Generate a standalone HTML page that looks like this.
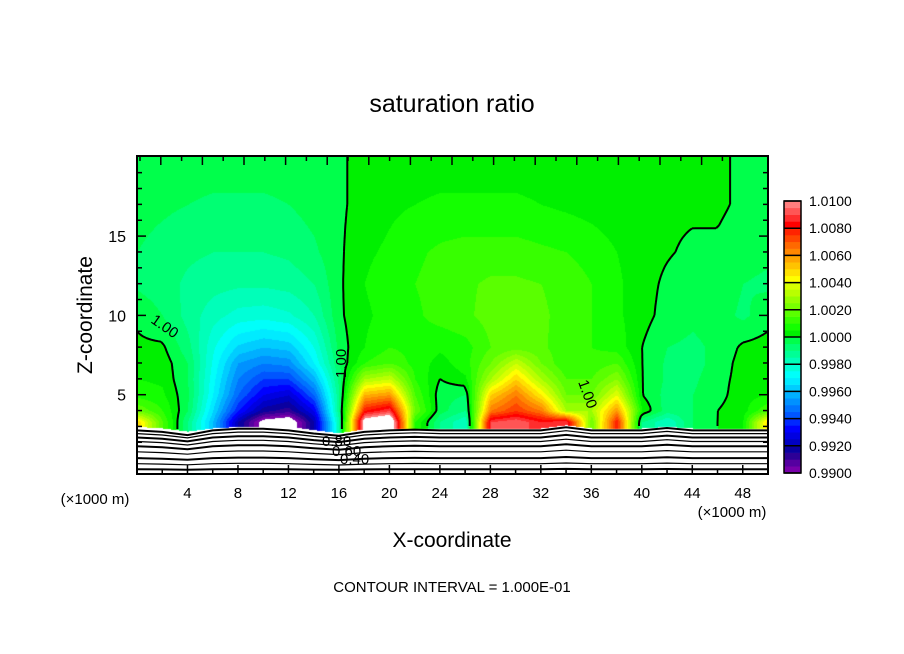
<!DOCTYPE html>
<html><head><meta charset="utf-8"><style>
body{margin:0;background:#fff;width:904px;height:654px;overflow:hidden;position:relative;font-family:"Liberation Sans",sans-serif}
svg text{font-family:"Liberation Sans",sans-serif}
#heat{position:absolute;left:137px;top:156px}
#ov{position:absolute;left:0;top:0}
</style></head><body>
<canvas id="heat" width="631" height="318"></canvas>
<svg id="ov" width="904" height="654"></svg>
<script>
// ---- data ----
const xCols=[0,2,4,6,8,10,12,14,16,18,20,22,24,26,28,30,32,34,36,38,40,42,44,46,48,50];
const zRows=[3.3,4,5,6,7,8,10,12,14,17,20];
// deviation from 1.0 in units of 0.001
const r33=[5,1.5,-1,-4,-8,-10.5,-11,-8,-1.5,11,12,1,-1,-2,9,9.5,8.5,9,2,8,-1,-2,-0.5,0,0.5,5];
const r4=[2,1,-0.5,-3.5,-6.5,-8.3,-8.8,-7,-1,8,9,2,-0.3,-1,6.5,7.5,6.5,3,3,6,0.5,-0.8,-0.5,0,0.3,1.5];
const r5=[0.8,0.6,-0.4,-3,-5.5,-7,-7.5,-5.5,-1,5.5,6,1.5,-0.3,-0.5,5,6.5,4.5,2,2,4,0,-0.7,-0.5,-0.2,0.3,0.5];
const r6=[0.5,0.4,-0.5,-2.8,-5,-6,-6,-4.2,-0.8,3,3.5,1,0,0.4,3,5,3,1.5,1.5,2.5,0,-0.6,-0.6,-0.2,0.2,0.3];
const r7=[0.3,0.3,-0.5,-2.6,-4.5,-5,-4.8,-3,-0.5,1,1.5,0.8,0.3,0.8,2,3.5,2,1,1.2,1.5,0,-0.6,-0.7,-0.3,0.2,0.2];
const r8=[0.1,0.1,-0.8,-2.4,-3.6,-4,-3.8,-2.5,-0.3,0.5,1,0.8,0.6,0.8,1.5,1.8,1.6,1.2,1,0.8,0,-0.5,-0.6,-0.4,0.1,0.2];
const r10=[-0.1,-0.5,-1.2,-1.8,-2.2,-2.3,-2.1,-1.5,-0.1,0.4,0.7,0.9,1.2,1.4,1.7,1.8,1.6,1.3,1,0.6,0.2,-0.2,-0.4,-0.3,-0.6,-0.2];
const r12=[-0.6,-0.8,-1.1,-1.3,-1.4,-1.4,-1.3,-1,-0.1,0.5,0.8,1,1.2,1.4,1.6,1.6,1.5,1.3,1,0.6,0.2,-0.1,-0.3,-0.2,-0.5,-0.6];
const r14=[-0.5,-0.7,-0.9,-1,-1,-1,-0.9,-0.6,-0.1,0.4,0.6,0.9,1.1,1.2,1.2,1.2,1.1,1,0.8,0.5,0.2,0.05,-0.1,-0.1,-0.3,-0.4];
const r17=[-0.3,-0.4,-0.5,-0.6,-0.6,-0.6,-0.5,-0.3,-0.1,0.2,0.4,0.5,0.6,0.6,0.6,0.6,0.5,0.4,0.3,0.2,0.1,0.1,0.1,0.1,-0.1,-0.1];
const r20=[-0.2,-0.2,-0.2,-0.2,-0.2,-0.2,-0.2,-0.2,-0.1,0.2,0.2,0.2,0.2,0.2,0.2,0.2,0.2,0.2,0.2,0.2,0.2,0.2,0.2,0.1,-0.1,-0.1];
const grid=[r33,r4,r5,r6,r7,r8,r10,r12,r14,r17,r20];
const surfaceZ=[3.0,2.9,2.7,2.9,3.0,3.0,3.0,2.8,2.6,2.85,2.9,2.9,2.9,2.9,2.9,2.9,2.9,3.1,2.9,2.9,2.9,3.0,2.9,2.9,2.9,2.9];
const terrainProfile=[0,-0.1,-0.3,0,0.1,0.1,0,-0.2,-0.35,-0.1,0,0.05,0,0,0,0,0,0.2,0,0,0,0.15,0,0,0,0];
const terrainLevels=[2.75,2.55,2.3,2.05,1.75,1.4,1.0,0.65,0.3];
const xTicks=[4,8,12,16,20,24,28,32,36,40,44,48];
const zTicks=[5,10,15];
const cbLabels=["1.0100","1.0080","1.0060","1.0040","1.0020","1.0000","0.9980","0.9960","0.9940","0.9920","0.9900"];
const palette=[[120,0,170],[85,0,160],[45,0,150],[10,0,160],[0,0,195],[0,0,225],[0,0,255],[0,40,255],[0,85,255],[0,115,255],[0,145,255],[0,175,255],[0,205,255],[0,235,255],[0,255,250],[0,255,215],[0,255,185],[0,255,150],[0,255,115],[0,255,75],[0,240,0],[20,255,0],[55,255,0],[90,255,0],[120,255,0],[150,255,0],[185,255,0],[215,255,0],[255,255,0],[255,225,0],[255,195,0],[255,165,0],[255,135,0],[255,105,0],[255,70,0],[255,35,0],[255,0,0],[255,45,45],[255,85,85],[255,125,125]];
// ---- geometry ----
const L=137,R=768,T=156,B=474;
const sx=x=>L+(x-0)/50*(R-L);
const sz=z=>B-(z/20.05)*(B-T);
function lerpArr(a,x){let f=x/2;if(f<=0)return a[0];if(f>=a.length-1)return a[a.length-1];const i=Math.floor(f),t=f-i;return a[i]*(1-t)+a[i+1]*t;}
function val(x,z){
  let j;
  if(z<=zRows[0]) return lerpArr(grid[0],x);
  if(z>=zRows[zRows.length-1]) return lerpArr(grid[grid.length-1],x);
  for(j=0;j<zRows.length-1;j++) if(z<zRows[j+1]) break;
  const t=(z-zRows[j])/(zRows[j+1]-zRows[j]);
  return lerpArr(grid[j],x)*(1-t)+lerpArr(grid[j+1],x)*t;
}
// ---- heatmap ----
const cv=document.getElementById('heat'),ctx=cv.getContext('2d');
const img=ctx.createImageData(631,318);
for(let py=0;py<318;py++)for(let px=0;px<631;px++){
  const x=px/(R-L)*50, z=(B-(T+py))/(B-T)*20.05;
  let c=[255,255,255];
  if(z>=lerpArr(surfaceZ,x)){const d=val(x,z);if(d>=-10&&d<10){c=palette[Math.floor((d+10)/0.5)];}}
  const k=(py*631+px)*4;img.data[k]=c[0];img.data[k+1]=c[1];img.data[k+2]=c[2];img.data[k+3]=255;
}
ctx.putImageData(img,0,0);
// ---- svg overlay ----
const NS='http://www.w3.org/2000/svg',svg=document.getElementById('ov');
function el(t,a,p){const e=document.createElementNS(NS,t);for(const k in a)e.setAttribute(k,a[k]);(p||svg).appendChild(e);return e;}
// contour 1.00 via marching squares
let cp='';const st=3;
for(let py=0;py<318-st;py+=st)for(let px=0;px<631-st;px+=st){
  const pts=[[px,py],[px+st,py],[px+st,py+st],[px,py+st]];
  const v=pts.map(p=>{const x=p[0]/(R-L)*50,z=(B-(T+p[1]))/(B-T)*20.05;return z<lerpArr(surfaceZ,x)?NaN:val(x,z);});
  if(v.some(isNaN))continue;
  const seg=[];
  for(let i=0;i<4;i++){const a=v[i],b=v[(i+1)%4];if((a<0)!==(b<0)){const t=a/(a-b);const p1=pts[i],p2=pts[(i+1)%4];seg.push([L+p1[0]+(p2[0]-p1[0])*t,T+p1[1]+(p2[1]-p1[1])*t]);}}
  if(seg.length>=2)cp+=`M${seg[0][0].toFixed(1)},${seg[0][1].toFixed(1)}L${seg[1][0].toFixed(1)},${seg[1][1].toFixed(1)}`;
  if(seg.length===4)cp+=`M${seg[2][0].toFixed(1)},${seg[2][1].toFixed(1)}L${seg[3][0].toFixed(1)},${seg[3][1].toFixed(1)}`;
}
const c1=el('path',{d:cp,stroke:'#000','stroke-width':2,fill:'none'});


// terrain lines
terrainLevels.forEach((lv,i)=>{
  const f=lv/2.8;
  const d=xCols.map((x,k)=>(k?'L':'M')+sx(x).toFixed(1)+','+sz(lv+terrainProfile[k]*f).toFixed(1)).join('');
  const p=el('path',{d:d,stroke:'#000','stroke-width':i%2?1.2:2,fill:'none'});
  
  
});
// frame
const fr=el('rect',{x:L,y:T,width:R-L,height:B-T,fill:'none',stroke:'#000','stroke-width':2});

// ticks
for(let x=2;x<50;x+=2){const len=x%4===0?9:5;
  el('line',{x1:sx(x),x2:sx(x),y1:B,y2:B-len,stroke:'#000','stroke-width':1.5});}
for(let k=0;k<29;k++){const px=L+3+k*20.8;if(px>=R-2)break;const len=k%2?9:5;
  el('line',{x1:px,x2:px,y1:T,y2:T+len,stroke:'#000','stroke-width':1.5});}
for(let z=1;z<20;z++){const len=z%5===0?9:5;
  el('line',{x1:L,x2:L+len,y1:sz(z),y2:sz(z),stroke:'#000','stroke-width':1.5});
  el('line',{x1:R,x2:R-len,y1:sz(z),y2:sz(z),stroke:'#000','stroke-width':1.5});}
xTicks.forEach(x=>{const t=el('text',{x:sx(x),y:498,'font-size':15,'text-anchor':'middle'});t.textContent=x;
  });
zTicks.forEach(z=>{const t=el('text',{x:126,y:sz(z)+6,'font-size':16,'text-anchor':'end'});t.textContent=z;
  });
// colorbar
const cbT=201,cbB=473,cbX=784,cbW=17;
palette.forEach((c,i)=>{const h=(cbB-cbT)/40;const r=el('rect',{x:cbX,y:cbB-(i+1)*h,width:cbW,height:h+0.3,fill:`rgb(${c[0]},${c[1]},${c[2]})`});
  });
for(let i=0;i<=10;i++){const y=cbT+i*(cbB-cbT)/10;el('line',{x1:cbX,x2:cbX+cbW,y1:y,y2:y,stroke:'#000','stroke-width':1.5});
  const t=el('text',{x:809,y:y+5,'font-size':14});t.textContent=cbLabels[i];
  }
el('rect',{x:cbX,y:cbT,width:cbW,height:cbB-cbT,fill:'none',stroke:'#000','stroke-width':1.5});
function txt(s,a,name){const t=el('text',a);t.textContent=s;return t;}
txt('saturation ratio',{x:452,y:112,'font-size':25,'text-anchor':'middle'},'chart-title');
txt('X-coordinate',{x:452,y:547,'font-size':21,'text-anchor':'middle'},'x-axis-title');
txt('Z-coordinate',{x:92,y:315,'font-size':21,'text-anchor':'middle',transform:'rotate(-90 92 315)'},'z-axis-title');
txt('(×1000 m)',{x:95,y:504,'font-size':15,'text-anchor':'middle'},'x-unit-left');
txt('(×1000 m)',{x:732,y:517,'font-size':15,'text-anchor':'middle'},'x-unit-right');
txt('CONTOUR INTERVAL = 1.000E-01',{x:452,y:592,'font-size':15,'text-anchor':'middle'},'contour-interval-note');
txt('1.00',{x:150,y:322,'font-size':15,transform:'rotate(35 150 322)'},'contour-label');
txt('1.00',{x:346,y:378,'font-size':15,transform:'rotate(-90 346 378)'},'contour-label');
txt('1.00',{x:578,y:382,'font-size':15,transform:'rotate(70 578 382)'},'contour-label');
txt('0.80',{x:322,y:446,'font-size':15},'contour-label');
txt('0.60',{x:332,y:456,'font-size':15},'contour-label');
txt('0.40',{x:340,y:464,'font-size':15},'contour-label');
</script>
</body></html>
